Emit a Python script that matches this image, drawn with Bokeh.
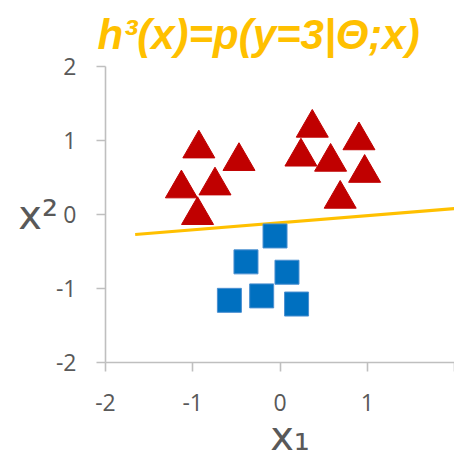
from bokeh.plotting import figure
from bokeh.models import FixedTicker, Range1d
from bokeh.embed import file_html
from bokeh.resources import INLINE

# data
tri_x = [-0.93, -0.47, 0.37, 0.905, 0.24, 0.58, 0.97, -1.13, -0.745, -0.945, 0.69]
tri_y = [0.89, 0.72, 1.17, 1.0, 0.78, 0.71, 0.56, 0.35, 0.39, -0.01, 0.21]
sq_x = [-0.057, -0.39, 0.08, -0.58, -0.21, 0.19]
sq_y = [-0.29, -0.64, -0.78, -1.16, -1.10, -1.21]
line_x = [-1.66, 2.0]
line_y = [-0.27, 0.08]
x_ticks = [-2, -1, 0, 1, 2]
y_ticks = [-2, -1, 0, 1, 2]
y_tick_labels = {-2: "-2", -1: "-1", 0: "0", 1: "1", 2: "2"}
x_tick_labels = {-2: "-2", -1: "-1", 0: "0", 1: "1", 2: ""}
title_text = "h³(x)=p(y=3|Θ;x)"
x_label = "\u2002x₁"
y_label = "x²"

FONT = "Open Sans"
LABEL_FONT = "DejaVu Sans"
GREY = "#595959"
AXIS = "#BFBFBF"

p = figure(width=454, height=461, output_backend="svg", toolbar_location=None,
           x_range=Range1d(-2, 2), y_range=Range1d(-2, 2),
           min_border_left=105, min_border_right=0, min_border_top=65,
           min_border_bottom=98, title=title_text)
p.outline_line_color = None
p.grid.visible = False
p.background_fill_color = "white"
p.border_fill_color = "white"

p.title.text_font = "Liberation Sans"
p.title.text_font_size = "42px"
p.title.text_font_style = "bold italic"
p.title.text_color = "#FFC000"
p.title.align = "left"
p.title.offset = -8
p.title.standoff = 17

for ax, ticks in ((p.xaxis[0], x_ticks), (p.yaxis[0], y_ticks)):
    ax.ticker = FixedTicker(ticks=ticks)
    ax.minor_tick_line_color = None
    ax.major_tick_in = 0
    ax.major_tick_out = 9
    ax.axis_line_color = AXIS
    ax.axis_line_width = 1.6
    ax.major_tick_line_color = AXIS
    ax.major_tick_line_width = 1.6
    ax.major_label_text_font = FONT
    ax.major_label_text_font_size = "23px"
    ax.major_label_text_color = GREY
    ax.axis_label_text_font = LABEL_FONT
    ax.axis_label_text_font_size = "40px"
    ax.axis_label_text_font_style = "normal"
    ax.axis_label_text_color = GREY

p.xaxis.major_label_overrides = x_tick_labels
p.yaxis.major_label_overrides = y_tick_labels
p.xaxis.axis_label = x_label
p.yaxis.axis_label = y_label
p.yaxis.axis_label_orientation = "horizontal"
p.xaxis.major_label_standoff = 22
p.yaxis.major_label_standoff = 20
p.xaxis.axis_label_standoff = -1
p.yaxis.axis_label_standoff = -5

p.line(line_x, line_y, line_color="#FFC000", line_width=3.2)
p.scatter(tri_x, tri_y, marker="triangle", size=32, fill_color="#C00000",
          line_color="#C00000", line_width=1)
p.scatter(sq_x, sq_y, marker="square", size=24, fill_color="#0070C0",
          line_color="#4A8FD0", line_width=1)

open("out.html", "w").write(file_html(p, INLINE))
